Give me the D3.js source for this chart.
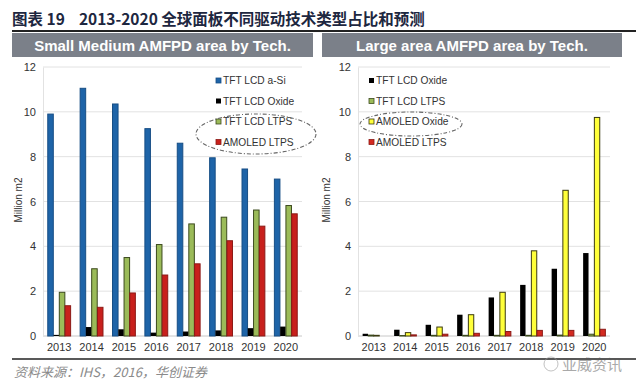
<!DOCTYPE html>
<html>
<head>
<meta charset="utf-8">
<script src="https://cdn.jsdelivr.net/npm/d3@7"></script>
<style>
  body { margin: 0; background: #fff; }
  svg { display: block; font-family: "Liberation Sans", Arial, sans-serif; }
  .tick text { font-family: "Liberation Sans", Arial, sans-serif; }
</style>
</head>
<body>
<script>
// data
var years = ["2013", "2014", "2015", "2016", "2017", "2018", "2019", "2020"];
var yTicks = [0, 2, 4, 6, 8, 10, 12];

// small / medium panel
var smSeries = ["TFT LCD a-Si", "TFT LCD Oxide", "TFT LCD LTPS", "AMOLED LTPS"];
var smASi = [9.9, 11.05, 10.35, 9.25, 8.6, 7.95, 7.45, 7.0];
var smOxide = [0.05, 0.4, 0.3, 0.15, 0.2, 0.25, 0.35, 0.42];
var smLtps = [1.95, 3.0, 3.5, 4.08, 5.0, 5.3, 5.62, 5.82];
var smAmoledLtps = [1.35, 1.28, 1.92, 2.72, 3.22, 4.25, 4.9, 5.45];

// large area panel
var lgSeries = ["TFT LCD Oxide", "TFT LCD LTPS", "AMOLED Oxide", "AMOLED LTPS"];
var lgOxide = [0.1, 0.28, 0.5, 0.95, 1.72, 2.28, 3.0, 3.7];
var lgLtps = [0.04, 0.02, 0.03, 0.03, 0.03, 0.03, 0.04, 0.08];
var lgAmoledOxide = [0.03, 0.15, 0.4, 0.95, 1.95, 3.8, 6.5, 9.75];
var lgAmoledLtps = [0.0, 0.05, 0.08, 0.12, 0.2, 0.25, 0.25, 0.3];

var W = 640, H = 387;
var svg = d3.select("body").append("svg").attr("width", W).attr("height", H);

// title
svg.append("text").attr("x", 12).attr("y", 25)
  .attr("font-size", 15.5).attr("font-weight", "bold").attr("fill", "#1d2740")
  .attr("font-family", "'Noto Sans CJK SC', sans-serif")
  .text("图表 19\u00a0\u00a0\u00a0\u00a02013-2020 全球面板不同驱动技术类型占比和预测");
svg.append("line").attr("x1", 12).attr("x2", 636).attr("y1", 31).attr("y2", 31)
  .attr("stroke", "#222").attr("stroke-width", 2);

// footer
svg.append("line").attr("x1", 12).attr("x2", 636).attr("y1", 359).attr("y2", 359)
  .attr("stroke", "#222").attr("stroke-width", 1.5);
svg.append("text").attr("x", 14).attr("y", 377)
  .attr("font-size", 13).attr("font-style", "italic").attr("fill", "#8a8a8a")
  .attr("font-family", "'Noto Sans CJK SC', sans-serif")
  .text("资料来源：IHS，2016，华创证券");

function panel(opt) {
  var g = svg.append("g");

  g.append("rect").attr("x", opt.bandX).attr("y", 33).attr("width", opt.bandW).attr("height", 24)
    .attr("fill", "#7b8089");
  g.append("text").attr("x", opt.bandX + opt.bandW / 2).attr("y", 50.5)
    .attr("text-anchor", "middle").attr("font-size", 15).attr("font-weight", "bold")
    .attr("fill", "#fff").text(opt.title);

  var y = d3.scaleLinear().domain([0, 12]).range([336, 67]);
  var x0 = d3.scaleBand().domain(years).range([opt.x0, opt.x1]).paddingInner(0.28).paddingOuter(0.14);
  var x1 = d3.scaleBand().domain(d3.range(opt.series.length)).range([0, x0.bandwidth()]).padding(0.04);

  // grid
  g.append("g").selectAll("line").data(yTicks).join("line")
    .attr("x1", opt.x0).attr("x2", opt.x1)
    .attr("y1", function(d) { return y(d); }).attr("y2", function(d) { return y(d); })
    .attr("stroke", function(d) { return d === 0 ? "#c8c8c8" : "#e2e2e2"; }).attr("stroke-width", 1);

  // y axis
  var ya = g.append("g").attr("transform", "translate(" + opt.x0 + ",0)")
    .call(d3.axisLeft(y).tickValues(yTicks).tickSize(0).tickPadding(7));
  ya.attr("font-family", null);
  ya.select(".domain").attr("stroke", "#e2e2e2");
  ya.selectAll("text").attr("font-size", 11).attr("fill", "#333");

  g.append("text").attr("transform", "translate(" + opt.labelX + ",200) rotate(-90)")
    .attr("text-anchor", "middle").attr("font-size", 10).attr("fill", "#333").text("Million m2");

  // x axis
  var xa = g.append("g").attr("transform", "translate(0,336)")
    .call(d3.axisBottom(x0).tickSize(0).tickPadding(7));
  xa.attr("font-family", null);
  xa.select(".domain").remove();
  xa.selectAll("text").attr("font-size", 11).attr("fill", "#333");

  // bars
  opt.values.forEach(function(vals, si) {
    g.append("g").selectAll("rect").data(vals).join("rect")
      .attr("x", function(d, i) { return x0(years[i]) + x1(si); })
      .attr("y", function(d) { return y(d); })
      .attr("width", x1.bandwidth())
      .attr("height", function(d) { return y(0) - y(d); })
      .attr("fill", opt.colors[si])
      .attr("stroke", opt.strokes[si])
      .attr("stroke-width", opt.strokes[si] === "none" ? 0 : 1);
  });

  // legend
  var lg = g.append("g");
  opt.series.forEach(function(s, i) {
    var ly = opt.legY + i * 20.5;
    lg.append("rect").attr("x", opt.legX).attr("y", ly - 4).attr("width", 5).attr("height", 5)
      .attr("fill", opt.colors[i]).attr("stroke", opt.strokes[i] === "none" ? "none" : opt.strokes[i]).attr("stroke-width", 0.8);
    lg.append("text").attr("x", opt.legX + 7).attr("y", ly + 2)
      .attr("font-size", 10.2).attr("fill", "#333").text(s);
  });
  g.append("ellipse").attr("cx", opt.ell[0]).attr("cy", opt.ell[1]).attr("rx", opt.ell[2]).attr("ry", opt.ell[3])
    .attr("fill", "none").attr("stroke", "#666").attr("stroke-width", 1.1).attr("stroke-dasharray", "4,2,1,2");
}

panel({
  title: "Small Medium AMFPD area by Tech.",
  bandX: 12, bandW: 301,
  x0: 43, x1: 302, labelX: 22,
  series: smSeries,
  values: [smASi, smOxide, smLtps, smAmoledLtps],
  colors: ["#1e64a8", "#000000", "#9bbb59", "#c8201c"],
  strokes: ["#174e85", "none", "#3c4a1e", "#8c1a16"],
  legX: 216, legY: 82,
  ell: [256, 134, 60, 20]
});

panel({
  title: "Large area AMFPD area by Tech.",
  bandX: 322, bandW: 300,
  x0: 358, x1: 610, labelX: 330,
  series: lgSeries,
  values: [lgOxide, lgLtps, lgAmoledOxide, lgAmoledLtps],
  colors: ["#000000", "#9bbb59", "#ffff3a", "#d42a20"],
  strokes: ["none", "#3c4a1e", "#3a3a10", "#8c1a16"],
  legX: 369, legY: 82,
  ell: [411, 124, 51, 12]
});

// watermark
svg.append("text").attr("x", 622).attr("y", 370).attr("text-anchor", "end")
  .attr("font-size", 15).attr("fill", "#555").attr("opacity", 0.5)
  .attr("font-family", "'Noto Sans CJK SC', sans-serif").text("亚威资讯");
svg.append("circle").attr("cx", 551).attr("cy", 364).attr("r", 7)
  .attr("fill", "none").attr("stroke", "#999").attr("opacity", 0.6);
</script>
</body>
</html>
